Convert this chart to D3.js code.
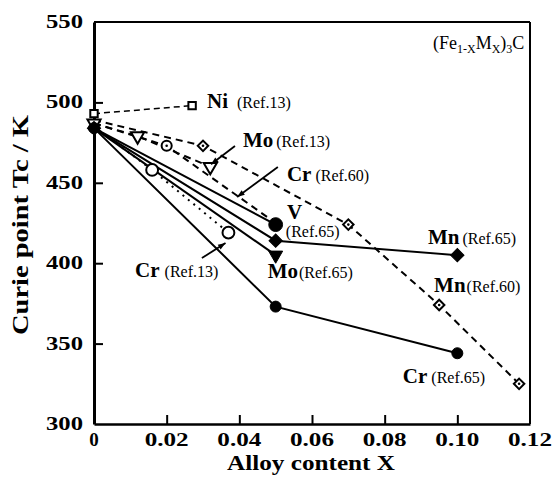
<!DOCTYPE html>
<html>
<head>
<meta charset="utf-8">
<script src="https://cdn.jsdelivr.net/npm/d3@7"></script>
<style>
  body { margin: 0; background: #fff; }
  text { font-family: "Liberation Serif", "Times New Roman", serif; fill: #000; }
</style>
</head>
<body>
<script>
// tick values
var xTicks = [0, 0.02, 0.04, 0.06, 0.08, 0.10, 0.12];
var yTicks = [300, 350, 400, 450, 500, 550];

// series values [alloy content X, Tc (K)]
var ni13 = [[0, 493], [0.027, 498]];
var mo13 = [[0, 487], [0.012, 479], [0.032, 460]];
var cr60 = [[0, 487], [0.02, 473], [0.05, 425]];
var mn60 = [[0, 489], [0.03, 473], [0.07, 424], [0.095, 374], [0.117, 325]];
var cr13 = [[0, 485], [0.016, 458], [0.037, 419]];
var v65  = [[0, 484], [0.05, 424]];
var mn65 = [[0, 484], [0.05, 414], [0.10, 405]];
var mo65 = [[0, 484], [0.05, 405]];
var cr65 = [[0, 484], [0.05, 373], [0.10, 344]];

// label texts and where they sit (data units)
var labels = [
  {el: "Ni", ref: "(Ref.13)", at: [0.0311, 496.5], gap: 9},
  {el: "Mo", ref: "(Ref.13)", at: [0.041, 472.3], gap: 3},
  {el: "Cr", ref: "(Ref.60)", at: [0.0531, 451.1], gap: 4},
  {el: "V", ref: "", at: [0.0531, 427.5], gap: 0},
  {el: "", ref: "(Ref.65)", at: [0.0528, 416.0], gap: 0},
  {el: "Mo", ref: "(Ref.65)", at: [0.0478, 390.8], gap: 1},
  {el: "Mn", ref: "(Ref.65)", at: [0.0919, 411.9], gap: 3},
  {el: "Mn", ref: "(Ref.60)", at: [0.0936, 382.1], gap: 1},
  {el: "Cr", ref: "(Ref.65)", at: [0.0850, 325.5], gap: 4},
  {el: "Cr", ref: "(Ref.13)", at: [0.0113, 391.4], gap: 5}
];
var arrows = [
  [[0.0388, 472.9], [0.0322, 461.5]],
  [[0.0506, 459.8], [0.0394, 441.2]],
  [[0.0297, 403.2], [0.0362, 412.5]]
];

var w = 555, h = 486;
var m = {left: 94, right: 25, top: 22, bottom: 62};

var x = d3.scaleLinear().domain([0, 0.12]).range([m.left, w - m.right]);
var y = d3.scaleLinear().domain([300, 550]).range([h - m.bottom, m.top]);

var svg = d3.select("body").append("svg")
    .attr("width", w)
    .attr("height", h);

// frame
svg.append("line").attr("x1", x(0)).attr("x2", x(0.12)).attr("y1", y(550)).attr("y2", y(550))
    .attr("stroke", "#000").attr("stroke-width", 2);
svg.append("line").attr("x1", x(0.12)).attr("x2", x(0.12)).attr("y1", y(550)).attr("y2", y(300))
    .attr("stroke", "#000").attr("stroke-width", 2);

var xAxis = svg.append("g")
    .attr("transform", "translate(0," + y(300) + ")")
    .call(d3.axisBottom(x).tickValues(xTicks).tickSizeInner(-9).tickSizeOuter(0).tickFormat(""));
xAxis.select(".domain").attr("stroke-width", 2.5);
xAxis.selectAll(".tick line").attr("stroke-width", 2)
    .filter(function(d){ return d === 0 || d === 0.12; }).remove();

var yAxis = svg.append("g")
    .attr("transform", "translate(" + x(0) + ",0)")
    .call(d3.axisLeft(y).tickValues(yTicks).tickSizeInner(-9).tickSizeOuter(0).tickFormat(""));
yAxis.select(".domain").attr("stroke-width", 3);
yAxis.selectAll(".tick line").attr("stroke-width", 2)
    .filter(function(d){ return d === 300 || d === 550; }).remove();

// tick labels
svg.selectAll(".xlab").data(xTicks).enter().append("text")
    .attr("class", "xlab")
    .attr("x", function(d){ return x(d); })
    .attr("y", h - m.bottom + 22)
    .attr("text-anchor", "middle")
    .attr("font-size", 19).attr("font-weight", "bold")
    .attr("textLength", function(d){ return d === 0 ? null : 44; })
    .attr("lengthAdjust", "spacingAndGlyphs")
    .text(function(d){ return d === 0 ? "0" : d.toFixed(2); });

svg.selectAll(".ylab").data(yTicks).enter().append("text")
    .attr("class", "ylab")
    .attr("x", 83)
    .attr("y", function(d){ return y(d) + 6; })
    .attr("text-anchor", "end")
    .attr("font-size", 19).attr("font-weight", "bold")
    .attr("textLength", 37)
    .attr("lengthAdjust", "spacingAndGlyphs")
    .text(function(d){ return d; });

// axis titles
svg.append("text")
    .attr("x", 311).attr("y", 470)
    .attr("text-anchor", "middle")
    .attr("font-size", 22).attr("font-weight", "bold")
    .attr("textLength", 168).attr("lengthAdjust", "spacingAndGlyphs")
    .text("Alloy content X");

svg.append("text")
    .attr("transform", "translate(28,225) rotate(-90)")
    .attr("text-anchor", "middle")
    .attr("font-size", 23).attr("font-weight", "bold")
    .attr("textLength", 220).attr("lengthAdjust", "spacingAndGlyphs")
    .text("Curie point Tc / K");

// lines
var line = d3.line().x(function(d){ return x(d[0]); }).y(function(d){ return y(d[1]); });

var dashed = [ni13, mo13, cr60, mn60];
svg.selectAll(".dash").data(dashed).enter().append("path")
    .attr("d", line).attr("fill", "none").attr("stroke", "#000")
    .attr("stroke-width", function(d, i){ return i === 0 ? 1.5 : 2; })
    .attr("stroke-dasharray", function(d, i){ return i === 0 ? "6,4" : "7,5"; });

svg.append("path").datum(cr13)
    .attr("d", line).attr("fill", "none").attr("stroke", "#000")
    .attr("stroke-width", 2).attr("stroke-dasharray", "2,5");

var solid = [v65, mn65, mo65, cr65];
svg.selectAll(".solid").data(solid).enter().append("path")
    .attr("d", line).attr("fill", "none").attr("stroke", "#000").attr("stroke-width", 2);

// markers
function marks(data, type, size, filled, rot, dot) {
  var g = svg.append("g");
  g.selectAll("path").data(data).enter().append("path")
      .attr("transform", function(d){ return "translate(" + x(d[0]) + "," + y(d[1]) + ") rotate(" + rot + ")"; })
      .attr("d", d3.symbol().type(type).size(size))
      .attr("fill", filled ? "#000" : "#fff")
      .attr("stroke", "#000")
      .attr("stroke-width", filled ? 1 : 2);
  if (dot) {
    g.selectAll("circle").data(data).enter().append("circle")
        .attr("cx", function(d){ return x(d[0]); })
        .attr("cy", function(d){ return y(d[1]); })
        .attr("r", 1.3).attr("fill", "#000");
  }
}

marks(mn60.slice(1), d3.symbolSquare, 55, false, 45, true);
marks(cr60.slice(1, 2), d3.symbolCircle, 80, false, 0, true);
marks(mo13, d3.symbolTriangle, 75, false, 180, false);
marks(ni13, d3.symbolSquare, 55, false, 0, false);
marks(cr13.slice(1), d3.symbolCircle, 110, false, 0, false);
marks(cr65, d3.symbolCircle, 95, true, 0, false);
marks(mn65, d3.symbolSquare, 88, true, 45, false);
marks(mo65.slice(1), d3.symbolTriangle, 85, true, 180, false);
marks(v65.slice(1), d3.symbolCircle, 150, true, 0, false);

// arrows
var ag = svg.selectAll(".arrow").data(arrows).enter().append("g");
ag.append("line")
    .attr("x1", function(d){ return x(d[0][0]); }).attr("y1", function(d){ return y(d[0][1]); })
    .attr("x2", function(d){ return x(d[1][0]); }).attr("y2", function(d){ return y(d[1][1]); })
    .attr("stroke", "#000").attr("stroke-width", 1.8);
ag.append("path")
    .attr("d", function(d){
      var x1 = x(d[0][0]), y1 = y(d[0][1]), x2 = x(d[1][0]), y2 = y(d[1][1]);
      var a = Math.atan2(y2 - y1, x2 - x1), L = 8, s = 0.35;
      return "M" + x2 + "," + y2 +
        "L" + (x2 - L * Math.cos(a - s)) + "," + (y2 - L * Math.sin(a - s)) +
        "L" + (x2 - L * Math.cos(a + s)) + "," + (y2 - L * Math.sin(a + s)) + "Z";
    })
    .attr("fill", "#000");

// labels
var lt = svg.selectAll(".lab").data(labels).enter().append("text")
    .attr("x", function(d){ return x(d.at[0]); })
    .attr("y", function(d){ return y(d.at[1]); });
lt.append("tspan")
    .attr("font-size", 21).attr("font-weight", "bold")
    .text(function(d){ return d.el; });
lt.append("tspan")
    .attr("dx", function(d){ return d.gap; })
    .attr("font-size", 16)
    .text(function(d){ return d.ref; });

// formula
var f = svg.append("text").attr("x", x(0.0933)).attr("y", y(533)).attr("font-size", 18);
f.append("tspan").text("(Fe");
f.append("tspan").attr("font-size", 12).attr("dy", 4).text("1-X");
f.append("tspan").attr("dy", -4).text("M");
f.append("tspan").attr("font-size", 12).attr("dy", 4).text("X");
f.append("tspan").attr("dy", -4).text(")");
f.append("tspan").attr("font-size", 12).attr("dy", 4).text("3");
f.append("tspan").attr("dy", -4).text("C");
</script>
</body>
</html>
